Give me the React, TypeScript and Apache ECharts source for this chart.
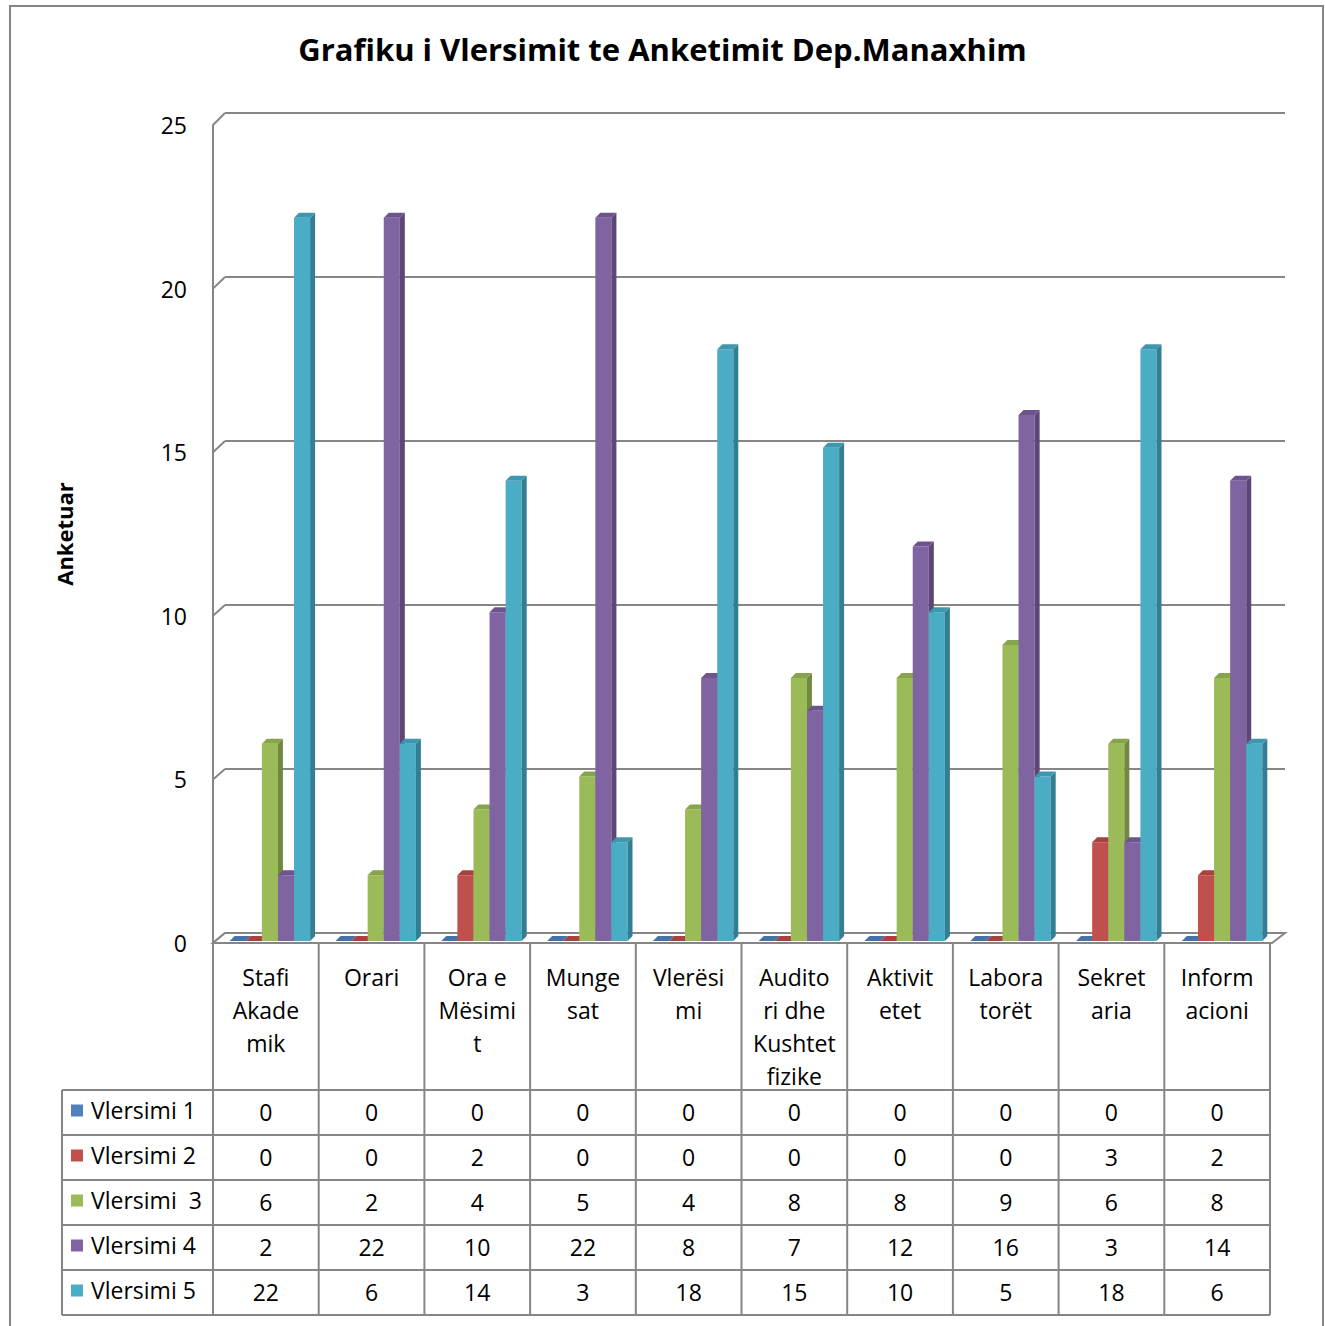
import React, { useEffect, useRef } from "react";
import * as echarts from "echarts";

const categoryLabels = [
  "Stafi\nAkade\nmik",
  "Orari",
  "Ora e\nMësimi\nt",
  "Munge\nsat",
  "Vlerësi\nmi",
  "Audito\nri dhe\nKushtet\nfizike",
  "Aktivit\netet",
  "Labora\ntorët",
  "Sekret\naria",
  "Inform\nacioni",
];
const seriesNames = ["Vlersimi 1", "Vlersimi 2", "Vlersimi  3", "Vlersimi 4", "Vlersimi 5"];
const vlersimi1 = [0, 0, 0, 0, 0, 0, 0, 0, 0, 0];
const vlersimi2 = [0, 0, 2, 0, 0, 0, 0, 0, 3, 2];
const vlersimi3 = [6, 2, 4, 5, 4, 8, 8, 9, 6, 8];
const vlersimi4 = [2, 22, 10, 22, 8, 7, 12, 16, 3, 14];
const vlersimi5 = [22, 6, 14, 3, 18, 15, 10, 5, 18, 6];
const yTicks = [0, 5, 10, 15, 20, 25];

const allSeries = [vlersimi1, vlersimi2, vlersimi3, vlersimi4, vlersimi5];
const frontColors = ["#4F81BD", "#C0504D", "#9BBB59", "#8064A2", "#4BACC6"];
const sideColors = ["#385D8A", "#8C3836", "#71893F", "#5C4776", "#327F94"];
const topColors = ["#4572A7", "#A8423F", "#86A44A", "#6E548D", "#3E97AF"];

const FONT = "'Open Sans', Lato, sans-serif";
const GRAY = "#868686";
const FS = 23;

// layout
const FL = 213, FR = 1270, FT = 125, FB = 943;
const BL = 225, BR = 1285, BT = 113, BB = 933;
const ML = 219, MR = 1277, MT = 119, MB = 941;
const TABLE_TOP = 1090, ROW_H = 45, HEAD_L = 62;
const W = 1325, H = 1326;

export default function App() {
  const ref = useRef<HTMLDivElement>(null);
  useEffect(() => {
    document.body.style.margin = "0";
    const styleEl = document.createElement("style");
    styleEl.textContent = "svg text { font-variant-ligatures: none; font-feature-settings: 'liga' 0; }";
    document.head.appendChild(styleEl);
    const chart = echarts.init(ref.current!, null, { renderer: "svg" });
    const n = categoryLabels.length;
    const colW = (FR - FL) / n;
    const graphics: any[] = [];
    // outer frame
    graphics.push({
      type: "rect",
      shape: { x: 10, y: 6, width: 1313, height: 1340 },
      style: { fill: "none", stroke: GRAY, lineWidth: 2 },
      z: -10,
    });
    // left wall diagonals
    yTicks.forEach((t) => {
      const fy = FB - (t / 25) * (FB - FT);
      const by = BB - (t / 25) * (BB - BT);
      graphics.push({
        type: "line",
        shape: { x1: FL, y1: fy, x2: BL, y2: by },
        style: { stroke: GRAY, lineWidth: 2 },
      });
    });
    // floor
    graphics.push({
      type: "polygon",
      shape: { points: [[FL, FB], [BL, BB], [BR, BB], [FR + 2, FB]] },
      style: { fill: "#ffffff", stroke: GRAY, lineWidth: 2 },
    });
    // table lines
    for (let i = 0; i <= n; i++) {
      const x = FL + i * colW;
      graphics.push({
        type: "line",
        shape: { x1: x, y1: FB, x2: x, y2: TABLE_TOP + ROW_H * seriesNames.length },
        style: { stroke: GRAY, lineWidth: 2 },
      });
    }
    graphics.push({
      type: "line",
      shape: { x1: HEAD_L, y1: TABLE_TOP, x2: HEAD_L, y2: TABLE_TOP + ROW_H * seriesNames.length },
      style: { stroke: GRAY, lineWidth: 2 },
    });
    for (let r = 0; r <= seriesNames.length; r++) {
      const y = TABLE_TOP + r * ROW_H;
      graphics.push({
        type: "line",
        shape: { x1: HEAD_L, y1: y, x2: FR, y2: y },
        style: { stroke: GRAY, lineWidth: 2 },
      });
    }
    // legend keys in table header
    seriesNames.forEach((name, r) => {
      const cy = TABLE_TOP + r * ROW_H + ROW_H / 2;
      graphics.push({
        type: "rect",
        shape: { x: 71, y: cy - 8, width: 12, height: 12 },
        style: { fill: frontColors[r] },
      });
      graphics.push({
        type: "text",
        x: 91,
        y: cy - 3,
        style: {
          text: name,
          fill: "#000",
          font: `${FS}px ${FONT}`,
          textVerticalAlign: "middle",
          textAlign: "left",
        },
      });
    });

    const barSeries = allSeries.map((vals, s) => ({
      type: "custom",
      name: seriesNames[s],
      xAxisIndex: 2,
      yAxisIndex: 2,
      clip: false,
      silent: true,
      z: 5 + s,
      data: vals.map((v, i) => [i, v]),
      encode: { x: 0, y: 1 },
      renderItem: (params: any, api: any) => {
        const idx = api.value(0);
        const v = api.value(1);
        const [cx, yTop] = api.coord([idx, v]);
        const [, yBase] = api.coord([idx, 0]);
        const catW = api.size([1, 0])[0];
        const bw = catW * 0.152;
        const x0 = cx - 2.5 * bw - 2 + s * bw;
        const x1 = x0 + bw;
        const d = 5;
        const children: any[] = [];
        if (v > 0) {
          children.push({
            type: "rect",
            shape: { x: x0, y: yTop, width: bw, height: yBase - yTop },
            style: { fill: frontColors[s] },
          });
          children.push({
            type: "polygon",
            shape: { points: [[x1, yTop], [x1 + d, yTop - d], [x1 + d, yBase - d], [x1, yBase]] },
            style: { fill: sideColors[s] },
          });
        }
        children.push({
          type: "polygon",
          shape: { points: [[x0, yTop], [x0 + d, yTop - d], [x1 + d, yTop - d], [x1, yTop]] },
          style: { fill: topColors[s] },
        });
        return { type: "group", children };
      },
    }));

    const tableData: number[][] = [];
    allSeries.forEach((vals, r) => vals.forEach((v, i) => tableData.push([i, r, v])));
    const tableSeries = {
      type: "custom",
      xAxisIndex: 0,
      yAxisIndex: 0,
      clip: false,
      silent: true,
      data: tableData,
      encode: { x: 0, y: 1 },
      renderItem: (params: any, api: any) => {
        const idx = api.value(0);
        const r = api.value(1);
        const v = api.value(2);
        const [cx] = api.coord([idx, 0]);
        return {
          type: "text",
          x: cx,
          y: TABLE_TOP + r * ROW_H + ROW_H / 2 - 1,
          style: {
            text: String(v),
            fill: "#000",
            font: `${FS}px ${FONT}`,
            textAlign: "center",
            textVerticalAlign: "middle",
          },
        };
      },
    };

    chart.setOption({
      animation: false,
      title: {
        text: "Grafiku i Vlersimit te Anketimit Dep.Manaxhim",
        left: "center",
        top: 28,
        textStyle: { fontSize: 31, fontWeight: "bold", color: "#000", fontFamily: FONT },
      },
      grid: [
        { left: FL, right: W - FR, top: FT, bottom: H - FB },
        { left: BL, right: W - BR, top: BT, bottom: H - BB },
        { left: ML, right: W - MR, top: MT, bottom: H - MB },
      ],
      xAxis: [
        {
          type: "category",
          gridIndex: 0,
          data: categoryLabels,
          axisLine: { show: false },
          axisTick: { show: false },
          axisLabel: {
            interval: 0,
            margin: 17,
            fontSize: FS,
            lineHeight: 33,
            color: "#000",
            fontFamily: FONT,
            verticalAlign: "top",
          },
        },
        { type: "category", gridIndex: 1, data: categoryLabels, show: false },
        { type: "category", gridIndex: 2, data: categoryLabels, show: false },
      ],
      yAxis: [
        {
          type: "value",
          gridIndex: 0,
          min: 0,
          max: 25,
          interval: 5,
          name: "Anketuar",
          nameLocation: "middle",
          nameGap: 138,
          nameTextStyle: { fontSize: 22, fontWeight: "bold", color: "#000", fontFamily: FONT },
          axisLine: { show: true, lineStyle: { color: GRAY, width: 2 } },
          axisTick: { show: false },
          splitLine: { show: false },
          axisLabel: { fontSize: FS, color: "#000", fontFamily: FONT, margin: 26 },
        },
        {
          type: "value",
          gridIndex: 1,
          min: 0,
          max: 25,
          interval: 5,
          axisLine: { show: false },
          axisTick: { show: false },
          axisLabel: { show: false },
          splitLine: { show: true, lineStyle: { color: GRAY, width: 2 } },
        },
        {
          type: "value",
          gridIndex: 2,
          min: 0,
          max: 25,
          interval: 5,
          show: false,
          splitLine: { show: false },
        },
      ],
      graphic: graphics,
      series: [...barSeries, tableSeries],
    });
    return () => {
      chart.dispose();
      styleEl.remove();
    };
  }, []);
  return <div ref={ref} style={{ width: W, height: H }} />;
}
